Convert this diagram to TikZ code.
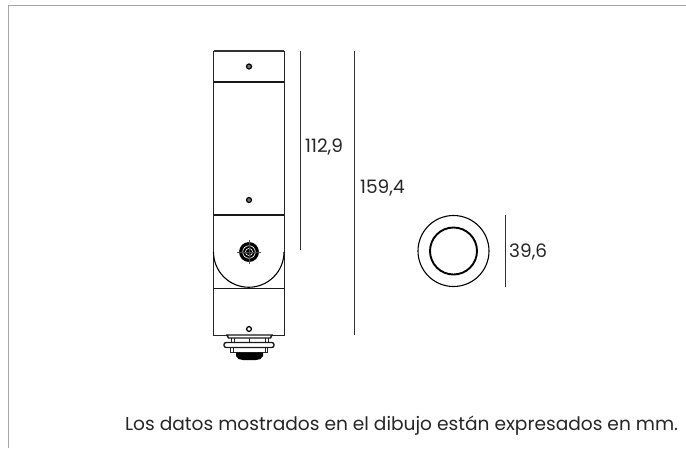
\documentclass[tikz,border=0pt]{standalone}
\usepackage{fontspec}
\setmainfont{Poppins}
\tikzset{
  thin line/.style={draw=black!85,line width=0.8pt},
  heavy line/.style={draw=black!90,line width=1.4pt},
  dim line/.style={draw=black!80,line width=0.9pt},
  dim label/.style={font=\fontsize{18.5}{22}\selectfont,text=black!85,inner sep=0pt,anchor=west},
}
\begin{document}
\begin{tikzpicture}[x=1pt,y=-1pt]
\useasboundingbox (0,0) rectangle (686,448);
\fill[white] (0,0) rectangle (686,448);
% frame
\draw[draw=black!35,line width=1.4pt] (8.7,448) -- (8.7,5.7) -- (686,5.7);
% body
\draw[thin line] (213.5,51) rectangle (284,335);
\draw[draw=black!80,line width=1.1pt] (213.5,51) -- (284,51);
\draw[heavy line] (213.5,82) -- (284,82);
\draw[heavy line] (213.5,215) -- (284,215);
\draw[heavy line] (213.5,288.5) -- (284,288.5);
\draw[draw=black,line width=1.1pt] (213.5,252) arc[start angle=180,end angle=360,radius=35.25pt];
% screws
\draw[draw=black,fill=black!55,line width=1.2pt] (249,66.5) circle (2.5pt);
\draw[draw=black,fill=black!55,line width=1.2pt] (249,200) circle (2.5pt);
\draw[draw=black,fill=white,line width=1.3pt] (249,329) circle (2.4pt);
% knob
\draw[draw=black,fill=black] (249,252) circle (9.7pt);
\draw[draw=white,line width=.6pt] (249,252) circle (6.3pt);
\draw[draw=white,line width=.6pt] (249,252) circle (3.6pt);
\draw[draw=black!70,line width=.7pt] (249,240) -- (249,264) (237,252) -- (261,252);
% connector
\draw[heavy line,fill=white] (227,335) -- (272,335) -- (270.5,338) -- (228.5,338) -- cycle;
\draw[thin line] (231,338) -- (231,343) (234,338) -- (234,343) (265,338) -- (265,343) (268,338) -- (268,343) (249,338) -- (249,343);
\draw[heavy line,fill=white,rounded corners=2.2pt] (224,342.5) rectangle (274,347.5);
\draw[thin line] (230,348) -- (230,352.5) -- (267.5,352.5) -- (267.5,348) (233,348) -- (233,352.5) (265,348) -- (265,352.5);
\fill[black] (236,352.5) -- (263,352.5) -- (263,356) .. controls (262,359) and (259,360) .. (256,360) -- (243,360) .. controls (240,360) and (237,359) .. (236,356) -- cycle;
% round view
\draw[draw=black,line width=1.1pt] (453.5,251) circle (35.5pt);
\draw[draw=black,line width=1.9pt] (453.5,251) circle (23.5pt);
% dimensions
\coordinate (d1a) at (300,51); \coordinate (d1b) at (300,250);
\coordinate (d2a) at (354,51); \coordinate (d2b) at (354,335);
\coordinate (d3a) at (505,215); \coordinate (d3b) at (505,287);
\draw[dim line] (d1a) -- (d1b);
\draw[dim line] (d2a) -- (d2b);
\draw[dim line] (d3a) -- (d3b);
\node[dim label] (l1) at (305,147) {112,9};
\node[dim label] (l2) at (360,188) {159,4};
\node[dim label] (l3) at (509,252) {39,6};
\node[font=\fontsize{18.6}{21}\selectfont,text=black!85,inner sep=0pt,anchor=west] (note) at (125,426) {Los datos mostrados en el dibujo están expresados en mm.};
\end{tikzpicture}
\end{document}
